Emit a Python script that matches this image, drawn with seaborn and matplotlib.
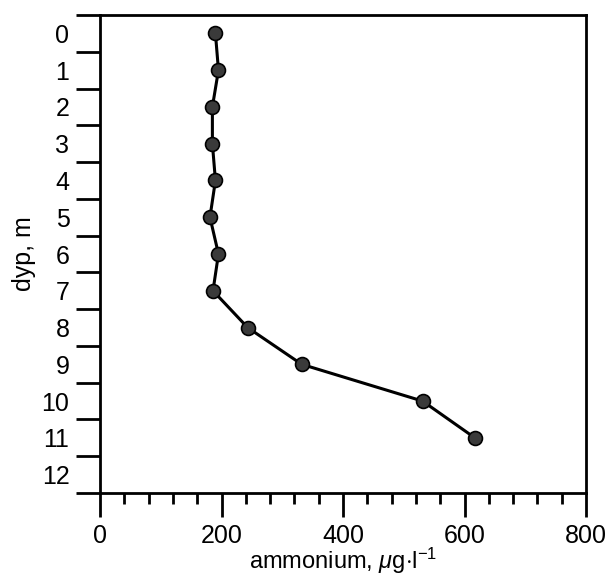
import numpy as np
import pandas as pd
import seaborn as sns
import matplotlib
matplotlib.use('Agg')
import matplotlib.pyplot as plt

# depth profile
depth = [0, 1, 2, 3, 4, 5, 6, 7, 8, 9, 10, 11]
ammonium = [190, 195, 185, 185, 190, 181, 195, 186, 243, 332, 531, 617]
depth_labels = [str(d) for d in range(13)]
x_ticks = [0, 200, 400, 600, 800]

sns.set_style('ticks')
plt.rcParams['font.family'] = ['Liberation Sans', 'DejaVu Sans']
plt.rcParams['mathtext.fontset'] = 'custom'
plt.rcParams['mathtext.rm'] = 'Liberation Sans'
plt.rcParams['mathtext.it'] = 'Liberation Sans:italic'
plt.rcParams['text.color'] = 'black'
plt.rcParams['axes.labelcolor'] = 'black'
plt.rcParams['xtick.color'] = 'black'
plt.rcParams['ytick.color'] = 'black'

df = pd.DataFrame({'depth': depth, 'ammonium': ammonium})

fig = plt.figure(figsize=(6.11, 5.8), dpi=100)
ax = fig.add_axes([100/611, 1 - 493/580, 486/611, 478/580])

sns.lineplot(data=df, x='ammonium', y='depth', sort=False, estimator=None,
             ax=ax, color='black', linewidth=2.2, marker='o', markersize=10,
             markerfacecolor='#3a3a3a', markeredgecolor='black',
             markeredgewidth=1.2)

ax.set_xlim(0, 800)
ax.set_ylim(12.5, -0.5)

# y: labels at integers, tick marks between them
ax.set_yticks(range(13))
ax.set_yticklabels(depth_labels)
ax.set_yticks(np.arange(-0.5, 13, 1), minor=True)
ax.tick_params(axis='y', which='major', length=0, pad=22, labelsize=18)
ax.tick_params(axis='y', which='minor', length=17, width=2)

ax.set_xticks(x_ticks)
ax.set_xticks(np.arange(0, 801, 40), minor=True)
ax.tick_params(axis='x', which='major', length=17, width=2, pad=5,
               labelsize=18)
ax.tick_params(axis='x', which='minor', length=8, width=2)

for s in ax.spines.values():
    s.set_linewidth(2)
    s.set_color('black')

ax.set_xlabel(r'ammonium, $\mu$g$\cdot$l$^{-1}$', fontsize=17, labelpad=-1)
ax.set_ylabel('dyp, m', fontsize=18, labelpad=4)

fig.savefig('out.png', dpi=100)
